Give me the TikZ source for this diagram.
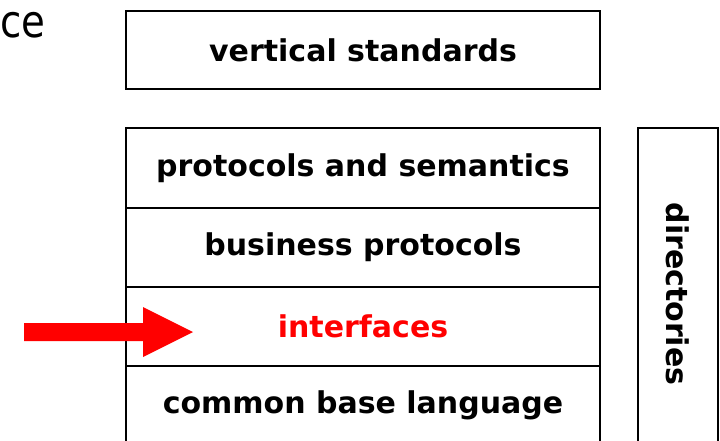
\documentclass[tikz,border=0pt]{standalone}
\usepackage{fontspec}
\setmainfont{DejaVu Sans}
\newfontfamily\titlefont[FakeStretch=0.86]{DejaVu Sans}
\begin{document}
\begin{tikzpicture}[x=1pt, y=-1pt, layer/.style={draw, line width=2.2pt, minimum width=474pt, minimum height=79pt, inner sep=0pt, font=\fontsize{30}{36}\selectfont\bfseries}, side/.style={draw, line width=2.2pt, minimum width=332pt, minimum height=80pt, inner sep=0pt, font=\fontsize{30}{36}\selectfont\bfseries}]
		\useasboundingbox (0,0) rectangle (720,441);

		\node (ce)[anchor=base west, inner sep=0pt, font=\titlefont\fontsize{45}{50}\selectfont] at (0,38){ce};

		\node (vert)[layer, minimum height=78pt] at (363,50){vertical standards};

		\node (prot)[layer, minimum height=80pt] at (363,168){protocols and semantics};
		\node (bus)[layer] at (363,247.5){business protocols};
		\node (intf)[layer, text=red] at (363,326.5){interfaces};
		\node (base)[layer] at (363,405.5){common base language};

		\node (dir)[side, rotate=-90] at (678,294){directories};

		\fill[red] (24,323) -- (143,323) -- (143,307) -- (193,332) -- (143,357) -- (143,341) -- (24,341) -- cycle;
	\end{tikzpicture}
\end{document}
